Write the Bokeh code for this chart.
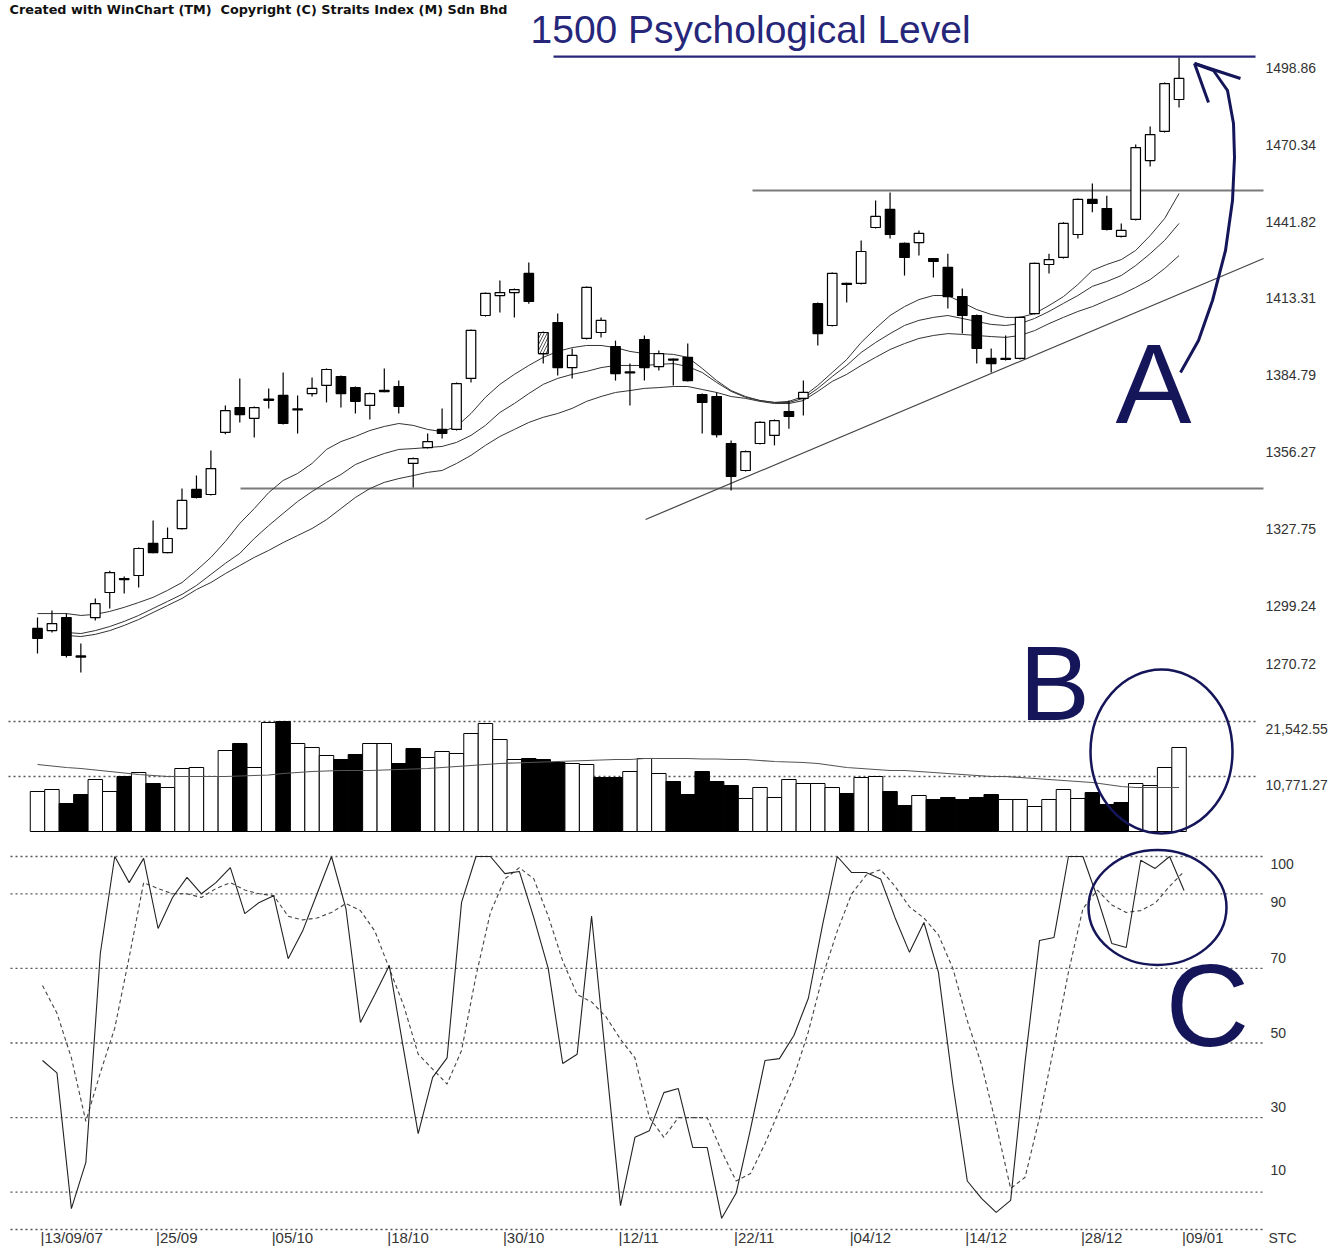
from bokeh.plotting import figure
from bokeh.models import Range1d, ColumnDataSource
from bokeh.embed import file_html
from bokeh.resources import INLINE
from bokeh.core.properties import value

nan = float("nan")

# ---------------- data ----------------
bars = list(range(80))
opens  = [1291.1,1290.3,1295.1,1280.9,1295.1,1304.4,1309.6,1310.7,1322.6,1319.2,
          1328.1,1342.6,1340.7,1363.7,1372.9,1368.9,1375.6,1377.4,1372.0,1378.1,
          1381.1,1384.4,1380.3,1373.7,1378.8,1380.7,1352.2,1358.1,1364.8,1364.8,
          1383.7,1407.0,1414.4,1415.5,1422.6,1392.9,1404.4,1387.7,1398.5,1400.7,
          1395.5,1385.7,1398.1,1388.1,1390.5,1391.5,1377.7,1377.0,1359.6,1349.6,
          1359.6,1362.6,1371.4,1376.3,1411.4,1403.3,1418.5,1418.9,1439.6,1446.3,
          1433.7,1434.0,1428.1,1424.8,1414.0,1407.0,1391.1,1390.7,1391.1,1407.7,
          1425.9,1428.5,1437.0,1450.0,1446.6,1436.3,1442.6,1464.4,1475.2,1487.0]
highs  = [1295.1,1297.7,1296.6,1285.5,1302.2,1312.5,1310.3,1321.1,1331.1,1328.5,
          1342.9,1347.7,1357.0,1373.7,1383.7,1373.3,1380.0,1385.9,1377.4,1384.0,
          1387.4,1384.8,1380.7,1378.5,1387.4,1382.9,1354.4,1363.3,1372.6,1382.2,
          1401.8,1415.5,1420.0,1417.0,1426.6,1401.1,1407.7,1394.8,1417.7,1406.3,
          1397.7,1389.2,1399.6,1394.0,1391.1,1396.6,1378.1,1378.5,1360.7,1357.0,
          1367.8,1368.5,1375.5,1382.9,1411.8,1422.9,1419.1,1434.8,1449.6,1452.6,
          1434.0,1438.5,1428.3,1429.9,1417.0,1407.4,1394.8,1399.6,1406.6,1426.6,
          1429.9,1441.5,1450.3,1455.9,1451.4,1441.1,1470.3,1477.0,1493.3,1502.6]
lows   = [1281.8,1289.6,1280.3,1274.8,1294.0,1298.5,1304.0,1306.3,1318.9,1318.9,
          1327.7,1339.2,1340.3,1363.0,1367.4,1361.8,1372.6,1366.6,1363.3,1377.0,
          1374.8,1372.9,1370.7,1368.5,1378.6,1370.7,1343.3,1357.7,1361.4,1364.4,
          1382.2,1406.6,1408.1,1406.3,1411.4,1389.2,1384.8,1383.7,1398.1,1398.9,
          1382.9,1373.7,1382.9,1386.6,1381.1,1382.6,1363.3,1361.8,1342.2,1349.2,
          1359.2,1358.9,1365.1,1370.0,1395.9,1402.9,1411.8,1418.5,1439.2,1435.5,
          1421.8,1429.2,1421.1,1409.6,1400.3,1389.2,1385.9,1390.3,1390.7,1407.4,
          1422.6,1428.1,1435.5,1445.2,1438.5,1435.9,1442.2,1462.2,1474.8,1484.0]
closes = [1287.4,1292.9,1281.1,1280.5,1300.3,1311.8,1309.2,1320.7,1319.2,1324.4,
          1338.5,1339.6,1350.3,1371.8,1370.3,1372.9,1376.0,1367.0,1372.4,1380.0,
          1387.0,1378.1,1375.2,1378.1,1379.3,1373.3,1354.0,1360.3,1363.3,1381.8,
          1401.5,1415.2,1415.5,1416.6,1412.2,1400.7,1387.7,1392.2,1417.4,1405.2,
          1385.5,1386.1,1387.7,1392.9,1390.9,1382.9,1374.8,1362.9,1347.4,1356.6,
          1367.4,1368.1,1369.6,1378.5,1400.3,1422.6,1418.9,1430.7,1443.7,1437.0,
          1428.5,1437.4,1427.0,1414.0,1407.0,1394.8,1389.2,1391.1,1406.3,1426.3,
          1427.7,1441.1,1450.0,1448.5,1438.9,1438.5,1469.2,1474.0,1492.9,1494.8]
hatched_bars = [35]

fast_ma = [1296.6,1296.6,1296.6,1295.9,1296.3,1297.4,1298.9,1300.7,1302.6,1305.2,
           1308.1,1312.6,1317.4,1323.3,1330.0,1335.5,1341.4,1345.9,1348.5,1352.2,
           1357.4,1360.3,1362.2,1364.4,1365.9,1367.0,1366.3,1364.8,1364.0,1365.9,
           1370.7,1376.7,1381.5,1385.2,1388.5,1391.5,1393.7,1395.1,1395.9,1395.9,
           1395.1,1393.7,1392.9,1392.9,1392.6,1391.5,1387.4,1382.9,1379.2,1377.0,
           1375.5,1374.8,1375.2,1377.0,1381.1,1385.9,1390.7,1397.0,1402.2,1407.0,
           1410.3,1412.9,1414.4,1414.4,1411.8,1409.2,1407.4,1406.3,1406.3,1407.7,
           1410.7,1414.0,1418.5,1423.7,1425.9,1427.7,1431.1,1436.6,1442.9,1452.2]
mid_ma = [nan,nan,1289.6,1289.2,1290.3,1291.8,1293.7,1295.9,1298.5,1301.1,
          1303.7,1307.0,1311.1,1315.2,1318.9,1324.4,1329.2,1333.7,1338.1,1341.8,
          1345.2,1348.1,1351.8,1354.0,1355.9,1357.4,1357.7,1358.1,1358.5,1360.0,
          1362.6,1366.3,1371.1,1374.4,1378.1,1381.5,1383.7,1385.2,1386.3,1387.7,
          1388.5,1388.5,1388.5,1388.9,1389.2,1388.1,1385.9,1382.2,1378.9,1376.7,
          1375.5,1374.8,1374.8,1376.3,1380.0,1384.4,1388.5,1393.3,1397.0,1400.3,
          1403.3,1405.2,1406.3,1407.0,1405.9,1404.8,1403.7,1403.3,1404.0,1405.9,
          1408.5,1411.5,1414.4,1417.8,1419.6,1421.8,1425.5,1429.9,1434.8,1441.1]
slow_ma = [nan,nan,1288.5,1288.1,1288.9,1290.3,1292.2,1294.4,1297.0,1299.6,
           1302.2,1305.5,1308.1,1311.4,1314.4,1317.4,1320.0,1322.9,1325.5,1328.1,
           1331.4,1335.5,1339.6,1342.9,1345.2,1346.6,1347.7,1348.9,1349.6,1352.2,
           1355.2,1358.9,1362.2,1364.8,1367.4,1369.3,1370.7,1372.6,1375.2,1377.0,
           1378.5,1379.2,1380.0,1380.3,1380.7,1380.7,1379.6,1378.5,1377.0,1376.3,
           1375.2,1374.4,1374.4,1375.5,1378.9,1382.6,1385.2,1388.5,1391.5,1394.4,
           1396.6,1398.5,1399.6,1400.3,1400.0,1399.6,1399.2,1398.9,1399.6,1401.4,
           1404.0,1406.3,1408.5,1410.3,1412.6,1414.8,1417.4,1420.3,1424.4,1429.2]

volumes = [7834,8225,5484,7246,10184,7834,10771,11555,9400,8617,
           12338,12534,10771,15863,17234,12534,21350,21542,17234,16451,
           14884,14100,15080,17234,17234,13317,16255,14492,15667,15276,
           19192,21150,18017,14100,14296,14100,13513,13317,13121,10575,
           10575,11750,14296,11359,9792,7246,11750,9792,9009,6463,
           8617,6659,10184,9400,9400,8617,7442,10575,10771,7834,
           5092,7050,6267,6659,6267,6659,7246,6267,6267,4896,
           6267,8225,6463,7638,5288,5679,9400,9009,12534,16451]
vol_ma = [13121,12827,12534,12338,12044,11750,11456,11163,10967,10771,
          10771,10771,10771,10771,10869,10967,11065,11359,11555,11750,
          11848,11946,11946,11946,12044,12142,12240,12338,12534,12730,
          12925,13121,13317,13415,13513,13611,13709,13807,13904,14002,
          14100,14100,14296,14296,14296,14296,14198,14198,14100,14100,
          13904,13709,13611,13513,13317,12925,12534,12338,12142,11946,
          11946,11750,11555,11359,11163,10967,10771,10771,10575,10380,
          10184,9988,9792,9596,9204,8813,8617,8617,8617,8617]

stoch_k = [45.3,42,5.6,18,74,100,93,99.5,80.7,89,
           94.4,90,93,97,84.7,87.7,89.5,72.6,80,90,
           100,86,55.5,63,70.8,48,25.7,40.8,46,87.7,
           100,100,95.4,96,83.6,70,44.5,47,84,45,
           6.4,24.7,26.5,36.7,37.8,22,22,3,9.7,27,
           45.3,45.8,52,62,82,100,95.7,95.7,94,83.6,
           74.3,82.3,69,39,13,8.3,4.6,7.8,45,77.5,
           78.3,100,100,89,76.7,75.6,99,96.8,100,90.9]
stoch_d = [65.4,58,46,29,42,54,73,93,91.4,90,
           90,89,91.4,93,91,90,89.5,84,83,83.5,
           85,87.4,85.5,80,70,60,47,43,39,48,
           68,85,94,97,94,84,72,63,61,57,
           51,46,30,24.7,30,30,30,21,13,15,
           23,32,41,53,68,80,90,95,96.5,92,
           86.5,83.5,79,70,56,44,28,11,14,30,
           49,69,86,91,87,85,85.5,87.5,92,96]

date_bars = [0, 8, 16, 24, 32, 40, 48, 56, 64, 72, 79]
date_labels = ["|13/09/07", "|25/09", "|05/10", "|18/10", "|30/10", "|12/11",
               "|22/11", "|04/12", "|14/12", "|28/12", "|09/01"]
price_ticks = [1498.86, 1470.34, 1441.82, 1413.31, 1384.79, 1356.27, 1327.75, 1299.24, 1270.72]
vol_ticks = [21542.55, 10771.27]
stc_ticks = [100, 90, 70, 50, 30, 10]
stc_grid = [100, 90, 70, 50, 30, 10, 0]

support_level = 1342.9
resistance_level = 1453.3
psych_level = 1502.9
trend_x = [42.08, 84.85]
trend_y = [1331.45, 1428.12]

# ---------------- layout (pixel geometry of the reference) ----------------
W, H = 1336, 1247
BAR_PX = 14.45
X0 = 37                # centre of bar 0, px from the left of the canvas
STX0 = 42              # oscillator panel is drawn ~5 px further right
PPX = 77 / 28.52       # px per index point
P_TOP_PX = 67          # px of 1498.86 from the top
VPX = 55 / 10771.27
V0_PX = 831
SPX = 3.73
S0_PX = 1229

p_top = 1498.86 + P_TOP_PX / PPX
p_bot = p_top - H / PPX
v_top = V0_PX / VPX
v_bot = v_top - H / VPX
s_top = S0_PX / SPX
s_bot = s_top - H / SPX

# label nudges (px, upward positive) seen in the reference
price_label_dy = [0, 0, 0, 0, 0, 0, 0, 0, 19]
vol_label_dy = [-8, -8]
stc_label_dy = [-7, -8, 10, 10, 11, 22]

def bx(xref):       # reference px -> bar coordinate
    return (xref - X0) / BAR_PX
def sbx(xref):
    return (xref - STX0) / BAR_PX
def py(yref):       # reference px -> price coordinate
    return 1498.86 - (yref - P_TOP_PX) / PPX
def vy(yref):
    return (V0_PX - yref) / VPX
def sy(yref):
    return (S0_PX - yref) / SPX

p = figure(width=W, height=H,
           x_range=Range1d(-X0 / BAR_PX, (W - X0) / BAR_PX),
           y_range=Range1d(p_bot, p_top),
           output_backend="svg", toolbar_location=None,
           x_axis_type=None, y_axis_type=None, min_border=0,
           outline_line_color=None, background_fill_color="white",
           border_fill_color="white")
p.extra_y_ranges = {"vol": Range1d(v_bot, v_top), "stc": Range1d(s_bot, s_top)}
p.extra_x_ranges = {"stx": Range1d(-STX0 / BAR_PX, (W - STX0) / BAR_PX)}

NAVY = "#15155a"
NAVY2 = "#26267a"
TXT = "#333333"
FONT = value("Liberation Sans")

# ---------------- price panel ----------------
up = [c >= o for o, c in zip(opens, closes)]
csrc = ColumnDataSource(dict(
    x=bars, o=opens, h=highs, l=lows, c=closes,
    top=[max(o, c) for o, c in zip(opens, closes)],
    bottom=[min(o, c) for o, c in zip(opens, closes)],
    fill=["white" if u else "black" for u in up]))

p.segment(x0=[bx(240)], y0=[support_level], x1=[bx(1263)], y1=[support_level],
          line_color="#7a7a7a", line_width=2)
p.segment(x0=[bx(752)], y0=[resistance_level], x1=[bx(1263)], y1=[resistance_level],
          line_color="#7a7a7a", line_width=2)
p.line(trend_x, trend_y, line_color="#444444", line_width=1.2)

p.line(bars, fast_ma, line_color="#333333", line_width=1)
p.line(bars, mid_ma, line_color="#333333", line_width=1)
p.line(bars, slow_ma, line_color="#333333", line_width=1)

p.segment(x0="x", y0="h", x1="x", y1="l", source=csrc, line_color="black", line_width=1.2)
p.vbar(x="x", width=0.66, top="top", bottom="bottom", source=csrc,
       fill_color="fill", line_color="black", line_width=1.2)
hsrc = ColumnDataSource(dict(
    x=hatched_bars,
    top=[max(opens[i], closes[i]) for i in hatched_bars],
    bottom=[min(opens[i], closes[i]) for i in hatched_bars]))
p.vbar(x="x", width=0.66, top="top", bottom="bottom", source=hsrc,
       fill_color="white", line_color="black", line_width=1.2,
       hatch_pattern="/", hatch_color="#555555", hatch_scale=6, hatch_weight=1)

# 1500 psychological level
p.segment(x0=[bx(553)], y0=[psych_level], x1=[bx(1255)], y1=[psych_level],
          line_color=NAVY2, line_width=2.2)
p.text(x=[bx(530)], y=[py(29)], text=["1500 Psychological Level"],
       text_font=FONT, text_font_size="39px", text_color=NAVY2,
       text_align="left", text_baseline="middle")

# arrow from A up to the 1500 level
arrow_x = [bx(v) for v in [1180, 1198, 1212, 1225, 1232, 1234, 1233, 1227, 1213, 1194]]
arrow_y = [py(v) for v in [372, 340, 300, 250, 200, 157, 123, 90, 70, 63]]
p.line(arrow_x, arrow_y, line_color=NAVY, line_width=3)
p.segment(x0=[bx(1194), bx(1194)], y0=[py(63), py(63)],
          x1=[bx(1240), bx(1208)], y1=[py(78), py(102)],
          line_color=NAVY, line_width=3)

# price scale labels
p.text(x=[bx(1265)] * len(price_ticks), y=price_ticks, y_offset=[-d for d in price_label_dy],
       text=[f"{t:.2f}" for t in price_ticks], text_font=FONT,
       text_font_size="14px", text_color=TXT, text_align="left", text_baseline="middle")

# ---------------- volume panel ----------------
vcolor = ["white"] + ["white" if closes[i] >= closes[i - 1] else "black" for i in range(1, len(closes))]
vsrc = ColumnDataSource(dict(x=bars, v=volumes, fill=vcolor))
for t in vol_ticks:
    p.segment(x0=[bx(8)], y0=[t], x1=[bx(1255)], y1=[t], y_range_name="vol",
              line_color="#555555", line_width=1.3, line_dash="2 3")
p.vbar(x="x", width=1.0, top="v", bottom=0, source=vsrc, y_range_name="vol",
       fill_color="fill", line_color="black", line_width=1)
p.line(bars, vol_ma, y_range_name="vol", line_color="#555555", line_width=1.2)
p.text(x=[bx(1265)] * len(vol_ticks), y=vol_ticks, y_offset=[-d for d in vol_label_dy],
       text=[f"{t:,.2f}" for t in vol_ticks], y_range_name="vol",
       text_font=FONT, text_font_size="14px", text_color=TXT,
       text_align="left", text_baseline="middle")

# ---------------- stochastic panel ----------------
for g in stc_grid:
    p.segment(x0=[sbx(10)], y0=[g], x1=[sbx(1262)], y1=[g],
              x_range_name="stx", y_range_name="stc",
              line_color="#555555", line_width=1.3, line_dash="2 3")
p.line(bars, stoch_d, x_range_name="stx", y_range_name="stc",
       line_color="#444444", line_width=1.1, line_dash="4 3")
p.line(bars, stoch_k, x_range_name="stx", y_range_name="stc",
       line_color="#222222", line_width=1.1)
p.text(x=[sbx(1270)] * len(stc_ticks), y=stc_ticks, y_offset=[-d for d in stc_label_dy],
       text=[str(t) for t in stc_ticks],
       x_range_name="stx", y_range_name="stc",
       text_font=FONT, text_font_size="14px", text_color=TXT,
       text_align="left", text_baseline="middle")
p.text(x=date_bars, y=[sy(1237)] * len(date_bars), text=date_labels,
       x_range_name="stx", y_range_name="stc", x_offset=-2,
       text_font=FONT, text_font_size="15px", text_color=TXT,
       text_align="left", text_baseline="middle")
p.text(x=[sbx(1268)], y=[sy(1237)], text=["STC"],
       x_range_name="stx", y_range_name="stc",
       text_font=FONT, text_font_size="14px", text_color=TXT,
       text_align="left", text_baseline="middle")

# ---------------- hand annotations A / B / C ----------------
p.text(x=[bx(1153)], y=[py(383)], text=["A"], text_font=FONT,
       text_font_size="114px", text_color=NAVY, text_align="center",
       text_baseline="middle")
p.text(x=[bx(1054)], y=[py(682)], text=["B"], text_font=FONT,
       text_font_size="106px", text_color=NAVY, text_align="center",
       text_baseline="middle")
p.text(x=[sbx(1207)], y=[sy(1005)], text=["C"], x_range_name="stx", y_range_name="stc",
       text_font=FONT, text_font_size="116px", text_color=NAVY,
       text_align="center", text_baseline="middle")
p.ellipse(x=[bx(1161)], y=[vy(751)], width=142 / BAR_PX, height=164 / VPX,
          y_range_name="vol", fill_color=None, line_color=NAVY, line_width=2.5)
p.ellipse(x=[sbx(1157)], y=[sy(907)], width=138 / BAR_PX, height=115 / SPX,
          x_range_name="stx", y_range_name="stc",
          fill_color=None, line_color=NAVY, line_width=2.5)

# ---------------- header ----------------
p.text(x=[bx(9)], y=[py(9)],
       text=["Created with WinChart (TM)\u00a0 Copyright (C) Straits Index (M) Sdn Bhd"],
       text_font=value("DejaVu Sans"), text_font_style="bold", text_font_size="12.8px",
       text_color="#111111", text_align="left", text_baseline="middle")

open("out.html", "w").write(file_html(p, INLINE))
